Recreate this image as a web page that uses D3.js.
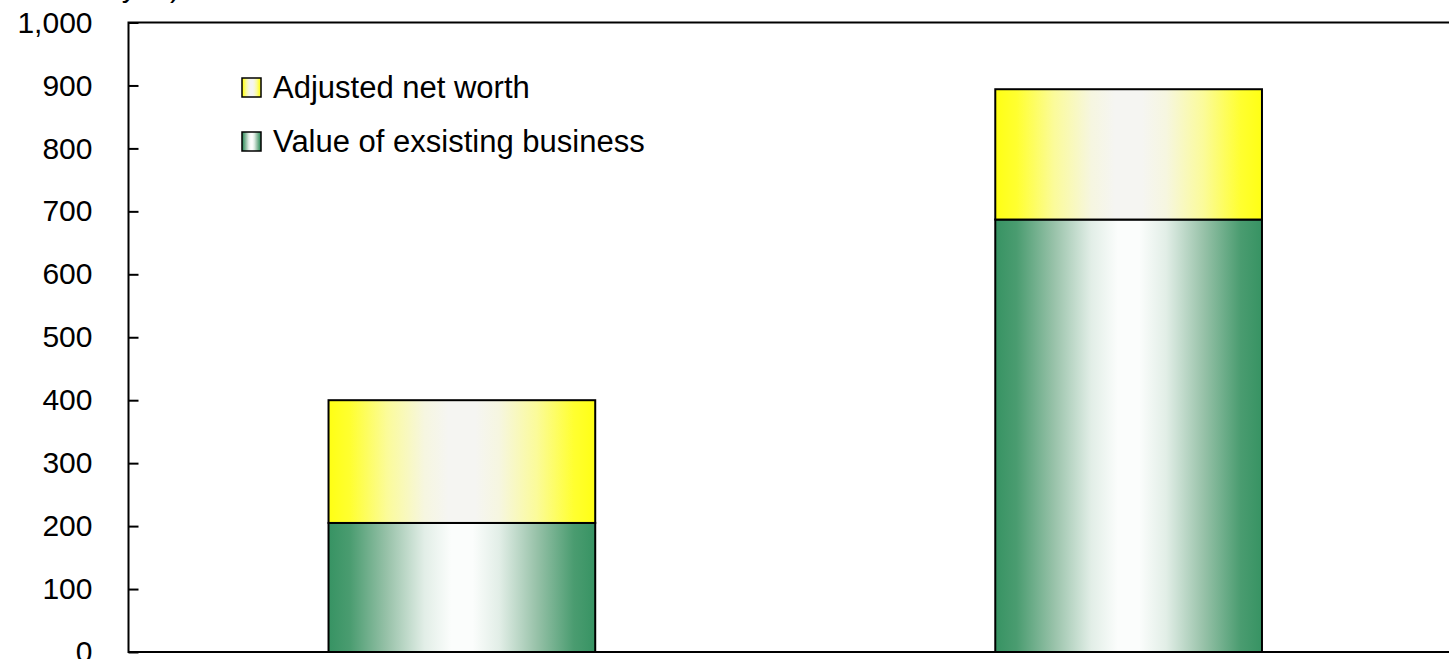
<!DOCTYPE html>
<html>
<head>
<meta charset="utf-8">
<script src="https://cdn.jsdelivr.net/npm/d3@7"></script>
<style>
  html, body { margin: 0; padding: 0; background: #fff; }
  svg { display: block; }
  text { font-family: "Liberation Sans", Arial, sans-serif; fill: #000; }
</style>
</head>
<body>
<svg id="chart" width="1449" height="659"></svg>
<script>
// Embedded value, by period
const categories = ["Previous year", "Current year"];
const existingBusiness = [205, 687];
const adjustedNetWorth = [195, 207];
const seriesNames = ["Adjusted net worth", "Value of exsisting business"];
const yTicks = [0, 100, 200, 300, 400, 500, 600, 700, 800, 900, 1000];
const unitLabel = "(100 million yen)";

const svg = d3.select("#chart");
const plot = { left: 128.5, top: 22.5, right: 1462, bottom: 652 };

const x = d3.scaleBand()
  .domain(categories)
  .range([plot.left, plot.right])
  .paddingInner(0.6)
  .paddingOuter(0.3);

const y = d3.scaleLinear()
  .domain([0, 1000])
  .range([plot.bottom, plot.top]);

// Horizontal "shine" gradients for the two series
const defs = svg.append("defs");
function shine(id, stops) {
  const g = defs.append("linearGradient").attr("id", id)
    .attr("x1", "0%").attr("x2", "100%").attr("y1", "0%").attr("y2", "0%");
  stops.forEach(([o, c]) => g.append("stop").attr("offset", o + "%").attr("stop-color", c));
}
shine("gYellow", [
  [0, "#ffff14"], [8, "#ffff30"], [22, "#fbfb9a"], [36, "#f6f6e0"],
  [45, "#f5f5f2"], [55, "#f5f5f2"], [64, "#f6f6e0"], [78, "#fbfb9a"],
  [92, "#ffff30"], [100, "#ffff14"]
]);
shine("gGreen", [
  [0, "#379363"], [8, "#4a9c70"], [22, "#98c2a9"], [36, "#e2eee7"],
  [46, "#fbfdfc"], [54, "#fbfdfc"], [64, "#e2eee7"], [78, "#98c2a9"],
  [92, "#4a9c70"], [100, "#379363"]
]);

const stacks = categories.map((c, i) => ({
  cat: c,
  green: [0, existingBusiness[i]],
  yellow: [existingBusiness[i], existingBusiness[i] + adjustedNetWorth[i]]
}));

// Bars
const bars = svg.append("g");
bars.selectAll("rect.green").data(stacks).join("rect")
  .attr("x", d => x(d.cat))
  .attr("width", x.bandwidth())
  .attr("y", d => y(d.green[1]))
  .attr("height", d => y(d.green[0]) - y(d.green[1]))
  .attr("fill", "url(#gGreen)")
  .attr("stroke", "#000").attr("stroke-width", 2);
bars.selectAll("rect.yellow").data(stacks).join("rect")
  .attr("x", d => x(d.cat))
  .attr("width", x.bandwidth())
  .attr("y", d => y(d.yellow[1]))
  .attr("height", d => y(d.yellow[0]) - y(d.yellow[1]))
  .attr("fill", "url(#gYellow)")
  .attr("stroke", "#000").attr("stroke-width", 2);

// Y axis with inward ticks
const yAxis = d3.axisLeft(y)
  .tickValues(yTicks)
  .tickFormat(d3.format(","))
  .tickSizeInner(-10)
  .tickSizeOuter(0)
  .tickPadding(36);
const ag = svg.append("g")
  .attr("transform", `translate(${plot.left},0)`)
  .call(yAxis);
ag.select(".domain").remove();
ag.selectAll(".tick line").attr("stroke", "#000").attr("stroke-width", 2);
ag.selectAll(".tick text")
  .attr("font-size", 30)
  .attr("font-family", "Liberation Sans, Arial, sans-serif")
  .attr("fill", "#000");

// Plot frame (left, top, bottom)
svg.append("path")
  .attr("d", `M${1449 + 5},${plot.top}H${plot.left}V${plot.bottom}H${1449 + 5}`)
  .attr("fill", "none").attr("stroke", "#000").attr("stroke-width", 2);

// Unit label
svg.append("text")
  .attr("x", 180).attr("y", -3)
  .attr("text-anchor", "end")
  .attr("font-size", 30)
  .text(unitLabel);

// Legend
const legendRows = [
  { name: seriesNames[0], fill: "url(#gYellow)", cy: 87 },
  { name: seriesNames[1], fill: "url(#gGreen)", cy: 141 }
];
const lg = svg.append("g");
const row = lg.selectAll("g").data(legendRows).join("g")
  .attr("transform", d => `translate(242,${d.cy})`);
row.append("rect")
  .attr("x", 0).attr("y", -9).attr("width", 19).attr("height", 19)
  .attr("fill", d => d.fill)
  .attr("stroke", "#000").attr("stroke-width", 1.5);
row.append("text")
  .attr("x", 31).attr("y", 0).attr("dy", "0.35em")
  .attr("font-size", 31)
  .text(d => d.name);
</script>
</body>
</html>
